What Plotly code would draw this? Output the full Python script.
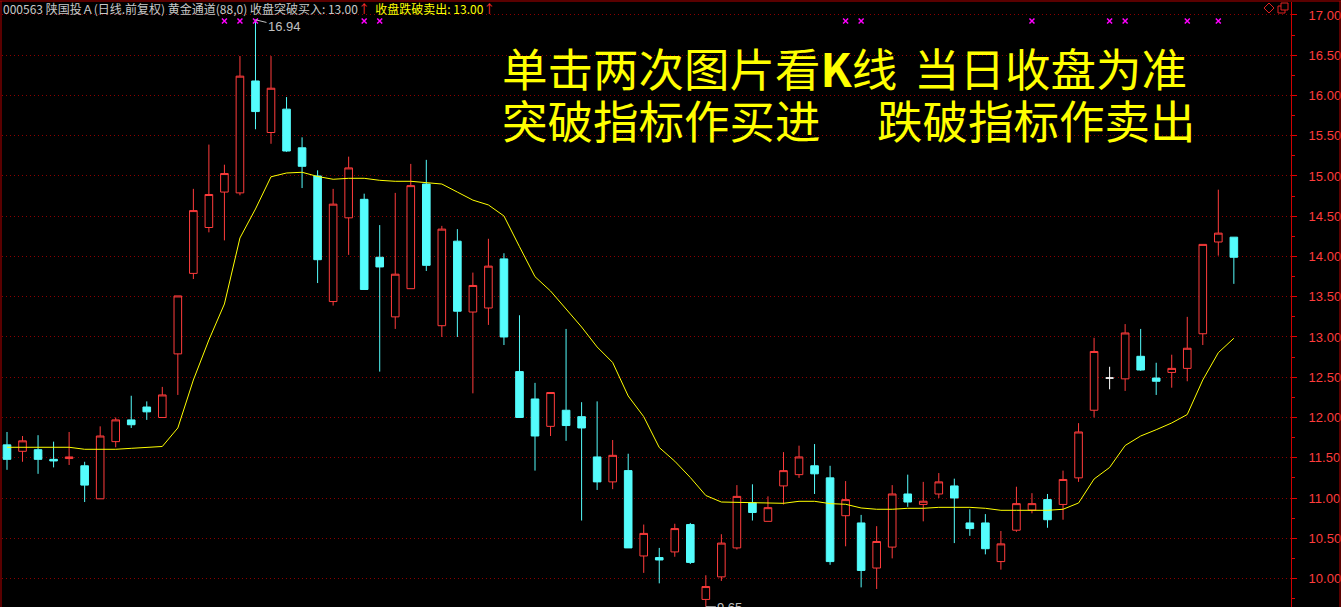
# -*- coding: utf-8 -*-
"""陕国投A 日线 + 黄金通道"""
import plotly.graph_objects as go

# ── 数据 ───────────────────────────────────────────
opens = [11.66, 11.58, 11.60, 11.48, 11.49, 11.40, 10.99, 11.70, 11.97, 12.13,
         12.00, 12.79, 13.79, 14.36, 14.80, 14.79, 16.18, 15.54, 15.83, 15.35,
         15.00, 13.44, 14.48, 14.71, 13.99, 13.25, 13.60, 14.90, 13.14, 14.19,
         13.31, 13.36, 13.97, 12.57, 12.23, 11.89, 12.09, 12.01, 11.51, 11.20,
         11.34, 10.28, 10.26, 10.33, 10.67, 9.74, 10.02, 10.38, 10.94, 10.71,
         11.15, 11.29, 11.40, 11.25, 10.78, 10.69, 10.13, 10.39, 11.05, 10.92,
         11.05, 11.15, 10.69, 10.69, 10.21, 10.60, 10.85, 10.98, 10.92, 11.25,
         12.09, 12.49, 12.48, 12.76, 12.49, 12.56, 12.61, 13.04, 14.18, 14.24]
highs = [11.82, 11.77, 11.78, 11.70, 11.82, 11.45, 11.89, 12.00, 12.27, 12.20,
         12.38, 13.51, 14.84, 15.39, 15.14, 16.49, 16.94, 16.49, 15.98, 15.48,
         15.07, 14.84, 15.24, 14.78, 14.39, 14.79, 15.15, 15.20, 14.38, 14.34,
         13.80, 14.22, 14.04, 13.27, 12.43, 12.31, 13.10, 12.19, 12.20, 11.72,
         11.55, 10.67, 10.38, 10.68, 10.69, 10.04, 10.55, 11.16, 11.17, 11.02,
         11.57, 11.65, 11.67, 11.40, 11.21, 10.79, 10.65, 11.16, 11.29, 11.20,
         11.31, 11.24, 10.86, 10.80, 10.59, 11.14, 11.06, 11.05, 11.34, 11.93,
         12.99, 12.63, 13.16, 13.10, 12.68, 12.78, 13.25, 14.15, 14.83, 14.24]
lows = [11.35, 11.45, 11.30, 11.38, 11.41, 10.95, 10.99, 11.63, 11.87, 11.97,
        12.00, 12.28, 13.72, 14.30, 14.20, 14.76, 15.58, 15.40, 15.30, 14.85,
        13.67, 13.39, 14.02, 13.59, 12.57, 13.10, 13.60, 13.82, 13.00, 13.00,
        12.30, 13.15, 12.90, 12.00, 11.34, 11.77, 11.71, 10.72, 11.10, 11.11,
        10.38, 10.07, 9.94, 10.27, 10.18, 9.65, 9.97, 10.36, 10.72, 10.71,
        10.92, 11.25, 11.05, 10.17, 10.40, 9.89, 9.87, 10.25, 10.89, 10.71,
        11.00, 10.44, 10.53, 10.30, 10.11, 10.58, 10.81, 10.63, 10.73, 11.20,
        12.00, 12.35, 12.33, 12.58, 12.28, 12.37, 12.45, 12.90, 14.01, 13.66]
closes = [11.48, 11.71, 11.48, 11.46, 11.51, 11.16, 11.77, 11.97, 11.91, 12.07,
          12.28, 13.51, 14.57, 14.77, 15.03, 16.24, 15.80, 16.09, 15.31, 15.12,
          13.96, 14.65, 15.10, 13.59, 13.87, 13.78, 14.88, 13.89, 14.34, 13.32,
          13.64, 13.88, 13.00, 12.00, 11.77, 12.31, 11.90, 11.87, 11.20, 11.53,
          10.38, 10.56, 10.23, 10.62, 10.20, 9.90, 10.44, 11.02, 10.82, 10.88,
          11.34, 11.51, 11.30, 10.21, 10.98, 10.10, 10.46, 11.05, 10.95, 10.96,
          11.20, 11.00, 10.62, 10.37, 10.43, 10.93, 10.93, 10.73, 11.23, 11.82,
          12.82, 12.49, 13.05, 12.59, 12.45, 12.61, 12.86, 14.15, 14.29, 13.99]
# 黄金通道(88,0)
gold = [11.63, 11.63, 11.63, 11.63, 11.63, 11.605, 11.605, 11.605, 11.617, 11.63,
        11.64, 11.87, 12.466, 12.963, 13.41, 14.23, 14.59, 14.99, 15.037, 15.046,
        14.994, 14.959, 14.971, 14.971, 14.946, 14.934, 14.934, 14.917, 14.90, 14.80,
        14.70, 14.64, 14.503, 14.122, 13.749, 13.571, 13.348, 13.124, 12.876, 12.683,
        12.267, 12.01, 11.627, 11.457, 11.255, 11.031, 10.95, 10.946, 10.946, 10.934,
        10.934, 10.959, 10.959, 10.93, 10.922, 10.876, 10.86, 10.86, 10.872, 10.872,
        10.884, 10.884, 10.884, 10.872, 10.847, 10.847, 10.847, 10.847, 10.86, 10.938,
        11.236, 11.379, 11.652, 11.77, 11.848, 11.932, 12.037, 12.466, 12.805, 12.984]
signal_idx = [14, 15, 16, 23, 24, 54, 55, 66, 71, 72, 76, 78]
signal_level = 16.925

idx = list(range(len(closes)))

# ── 画布 ───────────────────────────────────────────
W, H = 1341, 607
ML, MR, MT, MB = 2, 50, 2, 0
PW, PH = W - ML - MR, H - MT - MB
RED = '#ff3c3c'
CYAN = '#54fcfc'
GRID = '#8c0000'
FRAME = '#b40000'


def px_x(px):
    return (px - ML) / PW


def px_y(py):
    return 1 - (py - MT) / PH


fig = go.Figure()

# K线: 普通 / 十字星分开画
norm = [i for i in idx if opens[i] != closes[i]]
doji = [i for i in idx if opens[i] == closes[i]]

fig.add_trace(go.Candlestick(
    x=norm,
    open=[opens[i] for i in norm], high=[highs[i] for i in norm],
    low=[lows[i] for i in norm], close=[closes[i] for i in norm],
    increasing=dict(line=dict(color=RED, width=1), fillcolor='#000000'),
    decreasing=dict(line=dict(color=CYAN, width=1), fillcolor=CYAN),
    showlegend=False, hoverinfo='skip',
))
fig.add_trace(go.Candlestick(
    x=doji,
    open=[opens[i] for i in doji], high=[highs[i] for i in doji],
    low=[lows[i] for i in doji], close=[closes[i] for i in doji],
    increasing=dict(line=dict(color='#ffffff', width=1), fillcolor='#ffffff'),
    decreasing=dict(line=dict(color='#ffffff', width=1), fillcolor='#ffffff'),
    showlegend=False, hoverinfo='skip',
))

fig.add_trace(go.Scatter(
    x=idx, y=gold, mode='lines', line=dict(color='#ffff00', width=1),
    showlegend=False, hoverinfo='skip',
))

fig.add_trace(go.Scatter(
    x=signal_idx, y=[signal_level] * len(signal_idx), mode='markers',
    marker=dict(symbol='x-thin', size=5, color='#ff00ff', line=dict(width=1.5, color='#ff00ff')),
    showlegend=False, hoverinfo='skip', cliponaxis=False,
))

# ── 文字 ───────────────────────────────────────────
anns = []
header = ('000563 陕国投Ａ(日线.前复权) 黄金通道(88,0) 收盘突破买入: 13.00'
          '<span style="color:#ff3030">↑</span>  '
          '<span style="color:#ffff00">收盘跌破卖出: 13.00</span>'
          '<span style="color:#ff3030">↑</span>')
anns.append(dict(xref='paper', yref='paper', x=px_x(1), y=px_y(9), xanchor='left', yanchor='middle',
                 text=header, showarrow=False,
                 font=dict(family='Noto Sans CJK SC', size=12, color='#c8c8c8')))

big = [('单击两次图片看<b>K</b>线', 500, 67), ('当日收盘为准', 912, 67),
       ('突破指标作买进', 500, 119), ('跌破指标作卖出', 875, 119)]
for txt, bx, by in big:
    anns.append(dict(xref='paper', yref='paper', x=px_x(bx), y=px_y(by), xanchor='left', yanchor='middle',
                     text=txt, showarrow=False, height=48,
                     font=dict(family='Noto Sans CJK SC', size=45.5, color='#ffff00')))

hi_i = highs.index(max(highs))
lo_i = lows.index(min(lows))
anns.append(dict(x=hi_i, y=highs[hi_i], text=f'{highs[hi_i]:.2f}', showarrow=True, arrowhead=0,
                 arrowwidth=1, arrowcolor='#c0c0c0', ax=29, ay=7, standoff=0,
                 font=dict(family='Liberation Sans', size=13, color='#c0c0c0')))
anns.append(dict(x=lo_i, y=lows[lo_i], text=f'{lows[lo_i]:.2f}', showarrow=True, arrowhead=0,
                 arrowwidth=1, arrowcolor='#c0c0c0', ax=24, ay=9, standoff=0,
                 font=dict(family='Liberation Sans', size=13, color='#c0c0c0')))

# ── 边框 / 右上角图标 ───────────────────────────────
shapes = [
    dict(type='line', xref='paper', yref='paper', x0=px_x(0), x1=px_x(W), y0=px_y(1), y1=px_y(1),
         line=dict(color=FRAME, width=1)),
    dict(type='line', xref='paper', yref='paper', x0=px_x(1), x1=px_x(1), y0=px_y(1), y1=px_y(H),
         line=dict(color=FRAME, width=1)),
    dict(type='line', xref='paper', yref='paper', x0=px_x(1340), x1=px_x(1340), y0=px_y(1), y1=px_y(H),
         line=dict(color=FRAME, width=1)),
    dict(type='path', xref='paper', yref='paper',
         path=f'M{px_x(1264)},{px_y(8)} L{px_x(1269)},{px_y(3)} L{px_x(1274)},{px_y(8)} '
              f'L{px_x(1269)},{px_y(13)} Z',
         line=dict(color='#e02020', width=1)),
    dict(type='rect', xref='paper', yref='paper', x0=px_x(1278), x1=px_x(1285), y0=px_y(6), y1=px_y(13),
         line=dict(color='#e02020', width=1)),
    dict(type='rect', xref='paper', yref='paper', x0=px_x(1281), x1=px_x(1288), y0=px_y(3), y1=px_y(10),
         line=dict(color='#e02020', width=1), fillcolor='#000000'),
]

fig.update_layout(
    width=W, height=H,
    margin=dict(l=ML, r=MR, t=MT, b=MB, pad=0),
    paper_bgcolor='#000000', plot_bgcolor='#000000',
    boxgap=0.3,
    annotations=anns, shapes=shapes,
    showlegend=False,
    xaxis=dict(range=[-0.322, 82.68], visible=False, rangeslider=dict(visible=False)),
    yaxis=dict(
        range=[9.646, 17.161], side='right', dtick=0.5, tick0=0, tickformat='.2f',
        ticks='outside', ticklen=5, tickcolor='#e00000', tickwidth=1,
        showline=True, linecolor='#d00000', linewidth=1,
        showgrid=True, gridcolor=GRID, gridwidth=1, griddash='1px,3px',
        zeroline=False, ticklabelstandoff=9,
        tickfont=dict(family='Liberation Sans, Arial', size=13, color=RED),
        minor=dict(dtick=0.25, ticks='outside', ticklen=3, tickcolor='#e00000', showgrid=False),
    ),
)

# 页面默认 body 有 8px 边距, 去掉
fig.write_html("out.html", config={'displayModeBar': False},
               post_script="document.body.style.margin='0';document.body.style.background='#000';")
